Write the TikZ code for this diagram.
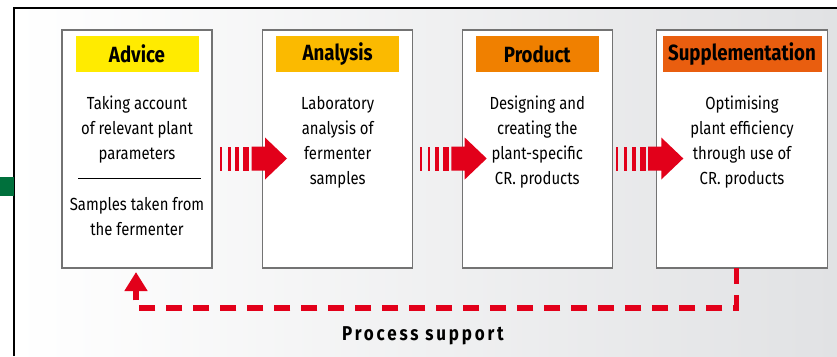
\documentclass[tikz,border=0pt]{standalone}
\usepackage{fontspec}
\setmainfont[FakeStretch=0.85]{Fira Sans}
\newfontfamily\spacedfont[FakeStretch=0.85,LetterSpace=14]{Fira Sans}
\usetikzlibrary{positioning,calc,arrows.meta}
\definecolor{advicecolor}{RGB}{255,235,0}
\definecolor{analysiscolor}{RGB}{251,186,0}
\definecolor{productcolor}{RGB}{240,128,0}
\definecolor{supplcolor}{RGB}{233,94,15}
\definecolor{flowred}{RGB}{226,0,26}
\definecolor{framegreen}{RGB}{0,112,60}
\definecolor{bgright}{RGB}{225,226,228}

% striped block arrow, starting at a named coordinate
\newcommand{\stripedarrow}[1]{%
  \foreach \a/\b in {0/2,8/10.7,15.3/19.3,23.3/29.3}
    \fill[flowred] ($(#1)+(\a,-12)$) rectangle ($(#1)+(\b,12)$);
  \fill[flowred] ($(#1)+(31.7,-12)$) -- ($(#1)+(45,-12)$) -- ($(#1)+(45,-21)$)
    -- ($(#1)+(67,0)$) -- ($(#1)+(45,21)$) -- ($(#1)+(45,12)$) -- ($(#1)+(31.7,12)$) -- cycle;
}

\begin{document}
\begin{tikzpicture}[
    x=1pt, y=-1pt,
    box/.style={rectangle, draw=black!55, line width=1.2pt, fill=white, minimum height=238pt, inner sep=0pt, outer sep=0pt},
    header/.style={rectangle, minimum height=36pt, inner sep=0pt, outer sep=0pt, font=\fontsize{22}{26}\selectfont\bfseries},
    bodytext/.style={align=center, inner sep=0pt, font=\fontsize{17.5}{25}\selectfont},
    feedback/.style={flowred, line width=5.5pt, dash pattern=on 16pt off 11pt, -{Triangle[width=22pt,length=19pt]}}
]
\useasboundingbox (0,0) rectangle (837,356);

% Background frame
\shade[left color=white, right color=bgright] (14,8) rectangle (837,356);
\draw[black, line width=1.5pt] (14,356) -- (14,8) -- (837,8);
\fill[framegreen] (0,177) rectangle (14,196);

% Step boxes
\node[box, minimum width=150pt] (advice) at (137,149) {};
\node[box, minimum width=150pt] (analysis) at (337.7,149) {};
\node[box, minimum width=150pt] (product) at (537.3,149) {};
\node[box, minimum width=171.7pt] (suppl) at (742,149) {};

% Headers
\node[header, fill=advicecolor, minimum width=123pt, below=6pt of advice.north] (advicehd) {Advice};
\node[header, fill=analysiscolor, minimum width=123pt, below=6pt of analysis.north] (analysishd) {Analysis};
\node[header, fill=productcolor, minimum width=123pt, below=6pt of product.north] (producthd) {Product};
\node[header, fill=supplcolor, minimum width=159pt, below=6pt of suppl.north] (supplhd) {Supplementation};

% Box texts (base = last line)
\node[bodytext, anchor=base] (advicetx) at (137,159) {Taking account\\of relevant plant\\parameters};
\draw[black, line width=0.8pt] ($(advice.west)+(16,29)$) -- ($(advice.east)+(-11,29)$);
\node[bodytext, anchor=base] (advicetx2) at (137,235) {Samples taken from\\the fermenter};
\node[bodytext, anchor=base] (analysistx) at (337.7,184) {Laboratory\\analysis of\\fermenter\\samples};
\node[bodytext, anchor=base] (producttx) at (537.3,184) {Designing and\\creating the\\plant-specific\\CR. products};
\node[bodytext, anchor=base] (suppltx) at (742,184) {Optimising\\plant efficiency\\through use of\\CR. products};

% Flow arrows between the steps
\coordinate (arr1) at ($(advice.east)+(8,9.5)$);
\coordinate (arr2) at ($(analysis.east)+(7,9.5)$);
\coordinate (arr3) at ($(product.east)+(4,9.5)$);
\stripedarrow{arr1}
\stripedarrow{arr2}
\stripedarrow{arr3}

% Feedback loop
\draw[feedback] ($(suppl.south west)!0.467!(suppl.south east)$) -- ++(0,40) -| ($(advice.south)+(-1,4)$);
\node[font=\spacedfont\fontsize{20}{24}\selectfont\bfseries] (support) at (423,336) {Process support};

\end{tikzpicture}
\end{document}
